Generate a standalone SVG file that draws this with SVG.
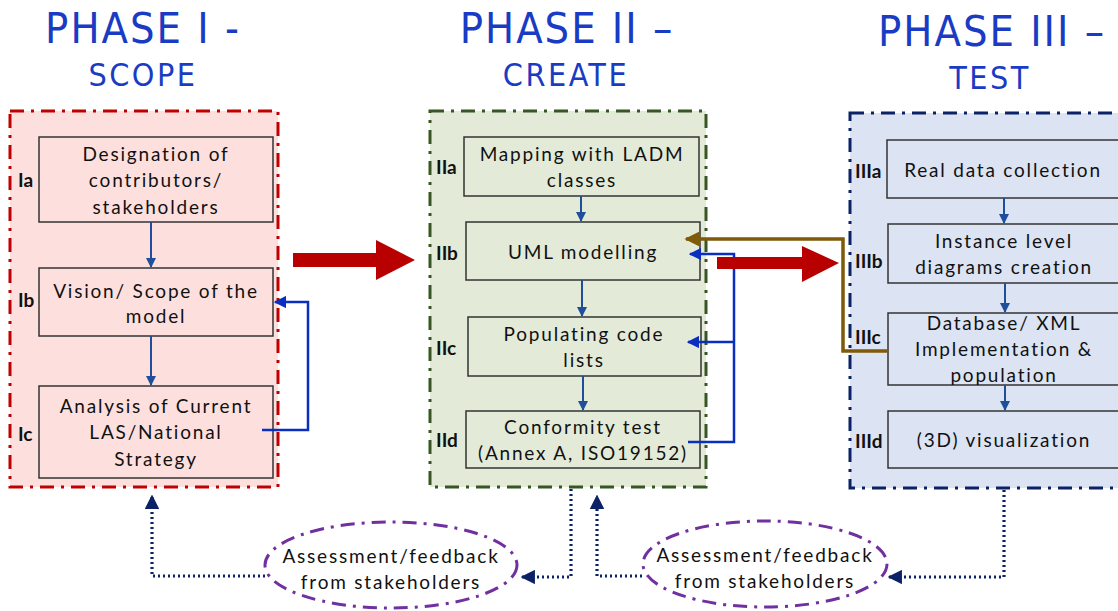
<svg xmlns="http://www.w3.org/2000/svg" width="1118" height="611" viewBox="0 0 1118 611">
<defs>
<style>
.title{font-family:"DejaVu Sans Condensed","DejaVu Sans",sans-serif;fill:#1a3cc4;text-anchor:middle}
.t1{font-size:43px;letter-spacing:2px}
.t2{font-size:32px;letter-spacing:2.5px}
.bx{stroke:#333;stroke-width:1.5}
.p1{fill:#fde0de}
.p2{fill:#e3ebd8}
.p3{fill:#dce4f3}
.txt{font-family:Lato,"Open Sans",sans-serif;font-size:19px;letter-spacing:1.8px;fill:#111;text-anchor:middle}
.lbl{font-family:Lato,"Liberation Sans",sans-serif;font-size:19px;font-weight:bold;fill:#111}
.arr{stroke:#1f4e9a;stroke-width:2;fill:none}
.fb{stroke:#0a2fc0;stroke-width:2.5;fill:none}
.dot{stroke:#0b2266;stroke-width:3.2;stroke-dasharray:2 3;fill:none}
.ell{fill:#fff;stroke:#7030a0;stroke-width:3;stroke-dasharray:14 7 3 7}
</style>
<marker id="ma" viewBox="0 0 10 10" refX="9" refY="5" markerWidth="5" markerHeight="5" orient="auto"><path d="M0,0L10,5L0,10z" fill="#1f4e9a"/></marker>
<marker id="mb" viewBox="0 0 10 10" refX="9" refY="5" markerWidth="5" markerHeight="5" orient="auto"><path d="M0,0L10,5L0,10z" fill="#0a2fc0"/></marker>
<marker id="mbr" viewBox="0 0 10 10" refX="9" refY="5" markerWidth="4.5" markerHeight="4.5" orient="auto"><path d="M0,0L10,5L0,10z" fill="#7f5a08"/></marker>
<marker id="mn" viewBox="0 0 10 10" refX="9" refY="5" markerWidth="4.5" markerHeight="4.5" orient="auto"><path d="M0,0L10,5L0,10z" fill="#0b2266"/></marker>
</defs>

<rect width="1118" height="611" fill="#fff"/>

<g id="titles">
<text class="title t1" x="143" y="43">PHASE I -</text>
<text class="title t2" x="143" y="86">SCOPE</text>
<text class="title t1" x="567" y="43">PHASE II –</text>
<text class="title t2" x="566" y="86">CREATE</text>
<text class="title t1" x="992" y="46">PHASE III –</text>
<text class="title t2" x="990" y="89">TEST</text>
</g>

<g id="phase1">
<rect x="10" y="111" width="268" height="376" fill="#fde0de" stroke="#c00000" stroke-width="3" stroke-dasharray="14 7 3 7"/>
</g>
<g id="phase2">
<rect x="430" y="111" width="276" height="376" fill="#e3ebd8" stroke="#375623" stroke-width="3" stroke-dasharray="14 7 3 7"/>
</g>
<g id="phase3">
<rect x="850" y="113" width="280" height="375" fill="#dce4f3" stroke="#0b2266" stroke-width="3" stroke-dasharray="14 7 3 7"/>
</g>

<g id="Ia">
<rect class="bx p1" x="39" y="137" width="234" height="85"/>
<text class="lbl" x="18" y="187">Ia</text>
<text class="txt" x="156" y="161">Designation of</text>
<text class="txt" x="156" y="187">contributors/</text>
<text class="txt" x="156" y="214">stakeholders</text>
</g>
<g id="Ib">
<rect class="bx p1" x="39" y="268" width="234" height="68"/>
<text class="lbl" x="18" y="307">Ib</text>
<text class="txt" x="156" y="298">Vision/ Scope of the</text>
<text class="txt" x="156" y="323">model</text>
</g>
<g id="Ic">
<rect class="bx p1" x="39" y="386" width="234" height="92"/>
<text class="lbl" x="18" y="441">Ic</text>
<text class="txt" x="156" y="413">Analysis of Current</text>
<text class="txt" x="156" y="439">LAS/National</text>
<text class="txt" x="156" y="466">Strategy</text>
</g>

<g id="IIa">
<rect class="bx p2" x="464" y="137" width="235" height="59"/>
<text class="lbl" x="436" y="174">IIa</text>
<text class="txt" x="582" y="161">Mapping with LADM</text>
<text class="txt" x="582" y="187">classes</text>
</g>
<g id="IIb">
<rect class="bx p2" x="466" y="222" width="234" height="58"/>
<text class="lbl" x="436" y="260">IIb</text>
<text class="txt" x="583" y="259">UML modelling</text>
</g>
<g id="IIc">
<rect class="bx p2" x="468" y="317" width="233" height="59"/>
<text class="lbl" x="436" y="355">IIc</text>
<text class="txt" x="584" y="341">Populating code</text>
<text class="txt" x="584" y="367">lists</text>
</g>
<g id="IId">
<rect class="bx p2" x="466" y="411" width="234" height="57"/>
<text class="lbl" x="436" y="447">IId</text>
<text class="txt" x="583" y="434">Conformity test</text>
<text class="txt" x="583" y="460">(Annex A, ISO19152)</text>
</g>

<g id="IIIa">
<rect class="bx p3" x="887" y="140" width="240" height="58"/>
<text class="lbl" x="855" y="178">IIIa</text>
<text class="txt" x="1003" y="177">Real data collection</text>
</g>
<g id="IIIb">
<rect class="bx p3" x="888" y="224" width="240" height="59"/>
<text class="lbl" x="855" y="268">IIIb</text>
<text class="txt" x="1004" y="248">Instance level</text>
<text class="txt" x="1004" y="274">diagrams creation</text>
</g>
<g id="IIIc">
<rect class="bx p3" x="888" y="313" width="240" height="72"/>
<text class="lbl" x="855" y="344">IIIc</text>
<text class="txt" x="1004" y="330">Database/ XML</text>
<text class="txt" x="1004" y="356">Implementation &amp;</text>
<text class="txt" x="1004" y="382">population</text>
</g>
<g id="IIId">
<rect class="bx p3" x="888" y="411" width="240" height="57"/>
<text class="lbl" x="855" y="448">IIId</text>
<text class="txt" x="1004" y="447">(3D) visualization</text>
</g>

<g id="feedback1">
<ellipse class="ell" cx="391" cy="565" rx="126" ry="43"/>
<text class="txt" x="391" y="563">Assessment/feedback</text>
<text class="txt" x="391" y="589">from stakeholders</text>
</g>
<g id="feedback2">
<ellipse class="ell" cx="765" cy="564" rx="122" ry="43"/>
<text class="txt" x="765" y="562">Assessment/feedback</text>
<text class="txt" x="765" y="588">from stakeholders</text>
</g>

<g id="connectors">
<line class="arr" x1="151" y1="222" x2="151" y2="267" marker-end="url(#ma)"/>
<line class="arr" x1="151" y1="336" x2="151" y2="385" marker-end="url(#ma)"/>
<line class="arr" x1="581" y1="196" x2="581" y2="221" marker-end="url(#ma)"/>
<line class="arr" x1="582" y1="280" x2="582" y2="316" marker-end="url(#ma)"/>
<line class="arr" x1="583" y1="376" x2="583" y2="410" marker-end="url(#ma)"/>
<line class="arr" x1="1004" y1="198" x2="1004" y2="223" marker-end="url(#ma)"/>
<line class="arr" x1="1005" y1="283" x2="1005" y2="312" marker-end="url(#ma)"/>
<line class="arr" x1="1005" y1="385" x2="1005" y2="410" marker-end="url(#ma)"/>

<polyline class="fb" points="262,430 308,430 308,302 275,302" marker-end="url(#mb)"/>
<polyline class="fb" points="688,442 734,442 734,254 690,254" marker-end="url(#mb)"/>
<polyline class="fb" points="734,342 688,342" marker-end="url(#mb)"/>

<polyline points="887,351 843,351 843,239 686,239" fill="none" stroke="#7f5a08" stroke-width="3.5" marker-end="url(#mbr)"/>

<path d="M293,253 H376 V240 L415,260 L376,280 V267 H293 Z" fill="#b80000"/>
<path d="M717,257 H802 V246 L839,263 L802,282 V269 H717 Z" fill="#b80000"/>

<polyline class="dot" points="265,576 152,576 152,496" marker-end="url(#mn)"/>
<polyline class="dot" points="571,489 571,577 522,577" marker-end="url(#mn)"/>
<polyline class="dot" points="642,576 597,576 597,496" marker-end="url(#mn)"/>
<polyline class="dot" points="1004,490 1004,577 889,577" marker-end="url(#mn)"/>
</g>
</svg>
